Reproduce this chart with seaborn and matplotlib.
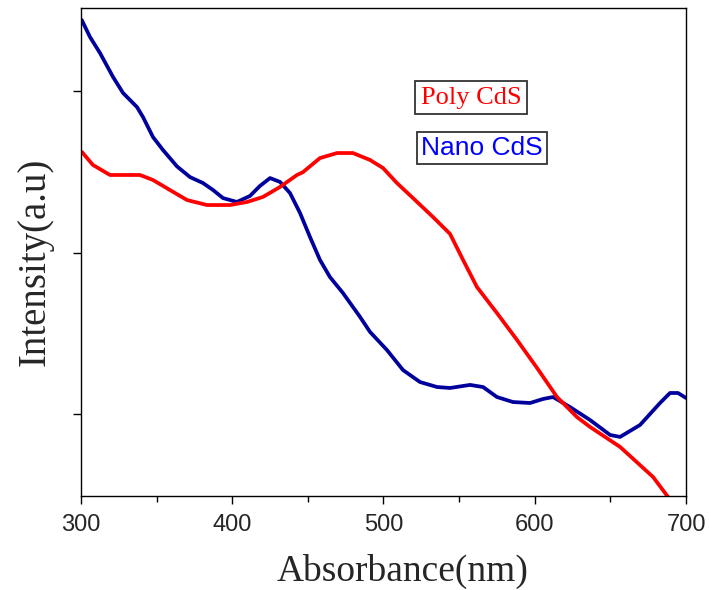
import matplotlib
matplotlib.use("Agg")
import matplotlib.pyplot as plt
import seaborn as sns
import pandas as pd
from matplotlib.ticker import MultipleLocator

# Nano CdS (blue) wavelength (nm) and intensity (a.u.)
nano_nm = [300.5, 306.0, 312.6, 321.2, 327.8, 337.0, 341.0, 347.6, 354.2, 363.5,
           372.1, 380.7, 387.3, 393.9, 403.1, 411.7, 418.3, 425.0, 431.6, 438.2,
           444.8, 451.4, 458.0, 464.6, 473.2, 484.5, 491.1, 502.3, 512.9, 524.1,
           535.4, 544.0, 557.2, 565.8, 575.0, 585.6, 596.9, 605.5, 612.1, 623.3,
           636.5, 649.8, 656.4, 669.6, 682.8, 689.4, 694.7, 700.0]
nano_int = [3.440, 3.334, 3.235, 3.087, 2.988, 2.901, 2.839, 2.715, 2.635, 2.533,
            2.467, 2.430, 2.387, 2.337, 2.313, 2.350, 2.412, 2.461, 2.437, 2.368,
            2.245, 2.096, 1.954, 1.848, 1.749, 1.601, 1.508, 1.396, 1.272, 1.198,
            1.167, 1.161, 1.180, 1.167, 1.105, 1.074, 1.068, 1.093, 1.105, 1.043,
            0.963, 0.870, 0.858, 0.932, 1.068, 1.130, 1.130, 1.099]

# Poly CdS (red)
poly_nm = [300.7, 307.9, 319.2, 339.0, 347.6, 358.8, 370.1, 383.3, 398.5, 409.8,
           420.3, 431.6, 442.8, 446.8, 458.0, 469.3, 479.8, 491.1, 499.7, 508.9,
           519.5, 532.7, 544.0, 552.6, 561.8, 575.0, 588.3, 601.5, 614.7, 627.9,
           636.5, 656.4, 678.2, 688.1]
poly_int = [2.622, 2.542, 2.480, 2.480, 2.449, 2.387, 2.325, 2.294, 2.294, 2.313,
            2.344, 2.406, 2.480, 2.498, 2.585, 2.616, 2.616, 2.573, 2.523, 2.430,
            2.337, 2.220, 2.115, 1.954, 1.786, 1.625, 1.458, 1.285, 1.105, 0.981,
            0.920, 0.796, 0.610, 0.486]

x_ticks = [300, 400, 500, 600, 700]
x_tick_labels = ["300", "400", "500", "600", "700"]
y_ticks = [1, 2, 3]

sns.set_style("ticks")
plt.rcParams["font.family"] = ["Liberation Sans", "DejaVu Sans"]

df = pd.concat([
    pd.DataFrame({"nm": nano_nm, "I": nano_int, "s": "Nano CdS"}),
    pd.DataFrame({"nm": poly_nm, "I": poly_int, "s": "Poly CdS"}),
])

fig = plt.figure(figsize=(7.09, 5.90), dpi=100)
ax = fig.add_axes([0.1142, 0.1593, 0.8534, 0.8271])

sns.lineplot(data=df, x="nm", y="I", hue="s", sort=False, estimator=None,
             palette={"Nano CdS": "#00009C", "Poly CdS": "#FF0000"},
             linewidth=2.7, legend=False, ax=ax)
for ln in ax.get_lines():
    ln.set_solid_joinstyle("round")
    ln.set_solid_capstyle("round")

ax.set_xlim(300, 700)
ax.set_ylim(0.492, 3.514)
ax.set_xticks(x_ticks)
ax.set_xticklabels(x_tick_labels)
ax.xaxis.set_minor_locator(MultipleLocator(50))
ax.set_yticks(y_ticks)
ax.set_yticklabels([])
ax.tick_params(axis="both", which="major", direction="out", length=6, width=1.0,
               color="black", labelsize=17, pad=7)
ax.tick_params(axis="x", which="minor", direction="out", length=4, width=1.0, color="black")
for sp in ax.spines.values():
    sp.set_visible(True)
    sp.set_color("black")
    sp.set_linewidth(1.0)

ax.set_xlabel("Absorbance(nm)", family=["Liberation Serif"], fontsize=27, labelpad=13)
ax.xaxis.label.set_x(0.531)
ax.set_ylabel("Intensity(a.u)", family=["Liberation Serif"], fontsize=28, labelpad=7)
ax.yaxis.label.set_y(0.48)

ax.text(0.6446, 0.8166, "Poly CdS", transform=ax.transAxes, ha="center", va="center",
        color="#FF0000", fontsize=19, family=["Liberation Serif"],
        bbox=dict(boxstyle="square,pad=0.2", fc="white", ec="#333333", lw=1.3))
ax.text(0.6628, 0.714, "Nano CdS", transform=ax.transAxes, ha="center", va="center",
        color="#0000FF", fontsize=19, family=["Liberation Sans"],
        bbox=dict(boxstyle="square,pad=0.15", fc="white", ec="#333333", lw=1.3))

fig.savefig("out.png", dpi=100)
